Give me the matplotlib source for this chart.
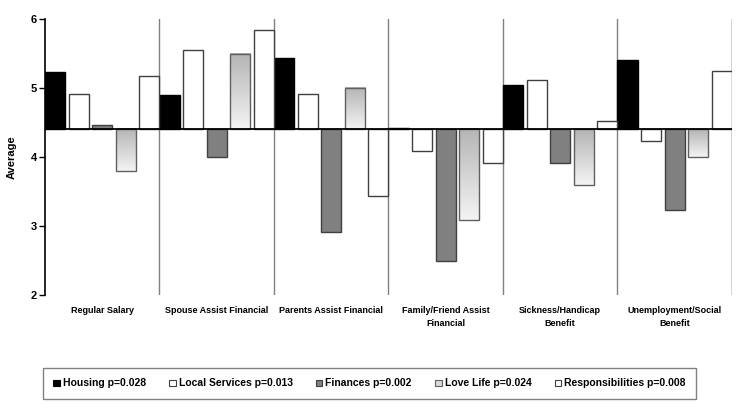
import matplotlib
matplotlib.use("Agg")
import matplotlib.pyplot as plt
import numpy as np
from matplotlib.patches import Patch

categories = ["Regular Salary", "Spouse Assist Financial", "Parents Assist Financial",
              "Family/Friend Assist\nFinancial", "Sickness/Handicap\nBenefit",
              "Unemployment/Social\nBenefit"]
series_names = ["Housing p=0.028", "Local Services p=0.013", "Finances p=0.002",
                "Love Life p=0.024", "Responsibilities p=0.008"]
housing = [5.23, 4.90, 5.43, 4.42, 5.05, 5.41]
local_services = [4.92, 5.55, 4.92, 4.08, 5.12, 4.23]
finances = [4.46, 4.00, 2.92, 2.49, 3.91, 3.23]
love_life = [3.79, 5.50, 5.00, 3.08, 3.59, 4.00]
responsibilities = [5.17, 5.84, 3.43, 3.91, 4.52, 5.25]
baseline = 4.4
yticks = [2, 3, 4, 5, 6]

series = [housing, local_services, finances, love_life, responsibilities]
faces = ["#000000", "#ffffff", "#808080", None, "#ffffff"]
edges = ["#000000", "#404040", "#404040", "#606060", "#404040"]

plt.rcParams['font.family'] = ['Liberation Sans', 'DejaVu Sans']
plt.rcParams['font.weight'] = 'bold'

fig = plt.figure(figsize=(7.37, 4.13), dpi=100)
ax = fig.add_axes([45/737, 1-295/413, (732-45)/737, (295-19)/413])

n = len(categories)
width = 0.175
step = (1 - width) / 4
grad = np.linspace(0, 1, 256).reshape(-1, 1)
cmap = matplotlib.colors.LinearSegmentedColormap.from_list("g", ["#f4f4f4", "#b4b4b4"])

for s, vals in enumerate(series):
    for g, v in enumerate(vals):
        x0 = g + s * step
        bottom = min(v, baseline)
        h = abs(v - baseline)
        if faces[s] is None:
            ax.imshow(grad, extent=[x0, x0 + width, bottom, bottom + h], origin='lower',
                      cmap=cmap, aspect='auto', zorder=2)
            ax.bar(x0, h, width=width, bottom=bottom, align='edge', facecolor='none',
                   edgecolor=edges[s], linewidth=1.0, zorder=3)
        else:
            ax.bar(x0, h, width=width, bottom=bottom, align='edge', facecolor=faces[s],
                   edgecolor=edges[s], linewidth=1.0, zorder=3)

for g in range(1, n):
    ax.axvline(g, color="#808080", linewidth=1.0, zorder=1)
ax.axvline(n, color="#202020", linewidth=1.0, zorder=1)
ax.axhline(baseline, color="#000000", linewidth=1.3, zorder=4)

ax.set_xlim(0, n)
ax.set_ylim(2, 6)
ax.set_yticks(yticks)
ax.set_yticklabels([str(t) for t in yticks], fontsize=8, fontweight='bold')
ax.tick_params(axis='y', length=4, width=1, pad=2)
ax.set_xticks([g + 0.5 for g in range(n)])
ax.set_xticklabels(categories, fontsize=6.5, fontweight='bold', linespacing=1.5)
ax.tick_params(axis='x', length=0, pad=8)
for sp in ['top', 'right', 'bottom']:
    ax.spines[sp].set_visible(False)
ax.spines['left'].set_linewidth(1.2)
ax.set_ylabel("Average", fontsize=8, fontweight='bold', labelpad=10)

handles = [Patch(facecolor=f if f is not None else "#d8d8d8", edgecolor=e, linewidth=0.8)
           for f, e in zip(faces, edges)]
leg = fig.legend(handles, series_names, ncol=5, loc='center',
                 bbox_to_anchor=(369.5/737, 1-383.5/413),
                 prop={'weight': 'bold', 'size': 7.5},
                 frameon=True, fancybox=False, handlelength=0.6, handleheight=0.6,
                 handletextpad=0.3, columnspacing=2.25, borderpad=1.0)
leg.get_frame().set_edgecolor("#606060")
leg.get_frame().set_linewidth(1.0)

fig.savefig("out.png", dpi=100)
